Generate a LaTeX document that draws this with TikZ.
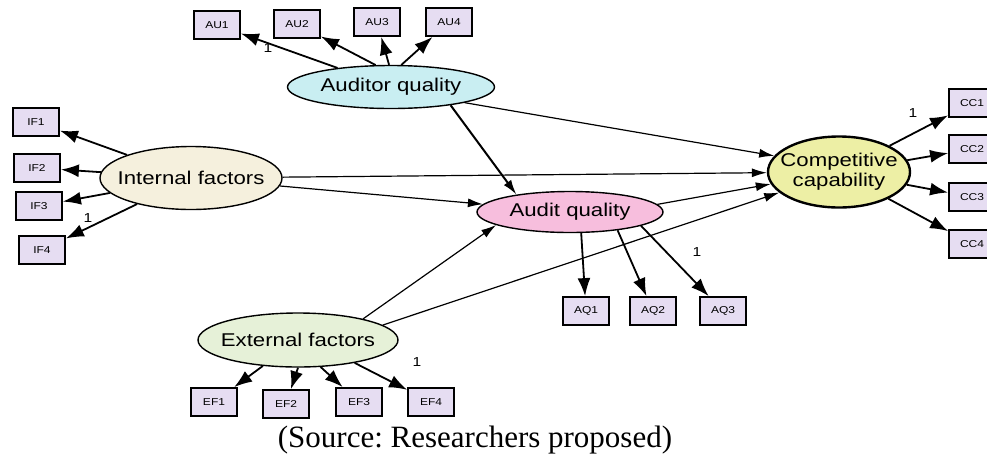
\documentclass[tikz,border=0pt]{standalone}
\usepackage{fontspec}
\setmainfont{Liberation Serif}
\setsansfont[FakeStretch=1.2]{Liberation Sans}
\usetikzlibrary{shapes.geometric,arrows.meta}
\frenchspacing

\definecolor{boxfill}{HTML}{E6DDF2}
\definecolor{auqfill}{HTML}{C9EEF2}
\definecolor{intfill}{HTML}{F5F0DD}
\definecolor{ccfill}{HTML}{EDEFA5}
\definecolor{aqfill}{HTML}{F7BEDD}
\definecolor{extfill}{HTML}{E6F1D8}

\begin{document}
\begin{tikzpicture}[x=1pt, y=-1pt,
      every node/.style={font=\sffamily},
      indicator/.style={draw, line width=1.8pt, fill=boxfill, minimum width=46pt, minimum height=28pt, inner sep=0pt, font=\sffamily\fontsize{10}{10}\selectfont},
      latent/.style={ellipse, draw, line width=1.4pt, inner sep=0pt},
      lattext/.style={align=center, font=\sffamily\fontsize{18.5}{20}\selectfont},
      meas/.style={-{Latex[length=18pt,width=13pt]}, line width=1.8pt},
      regpath/.style={-{Latex[length=15pt,width=9pt]}, line width=1.2pt},
      one/.style={font=\sffamily\fontsize{13}{13}\selectfont}
    ]
    \useasboundingbox (0,0) rectangle (987,459);

    % latent variables
    \node[latent, fill=auqfill, minimum width=207pt, minimum height=43pt, label={[lattext]center:Auditor quality}] (AUQ) at (391,87) {};
    \node[latent, fill=intfill, minimum width=182pt, minimum height=63pt, label={[lattext]center:Internal factors}] (INT) at (191,178) {};
    \node[latent, fill=ccfill, line width=2.4pt, minimum width=142pt, minimum height=71pt, label={[lattext]center:Competitive\\capability}] (CC) at (839,172) {};
    \node[latent, fill=aqfill, minimum width=186pt, minimum height=41pt, label={[lattext]center:Audit quality}] (AQ) at (570,212) {};
    \node[latent, fill=extfill, minimum width=200pt, minimum height=54pt, label={[lattext]center:External factors}] (EXT) at (298,340) {};

    % auditor quality items
    \node[indicator] (AU1) at (217,25) {AU1};
    \node[indicator] (AU2) at (297,24) {AU2};
    \node[indicator] (AU3) at (377,22) {AU3};
    \node[indicator] (AU4) at (449,22) {AU4};

    \draw[meas] (AUQ) -- (AU1);
    \draw[meas] (AUQ.125) -- (AU2);
    \draw[meas] (AUQ.95) -- (AU3);
    \draw[meas] (AUQ.65) -- (AU4);

    % internal factors items
    \node[indicator] (IF1) at (36,122) {IF1};
    \node[indicator] (IF2) at (37,168) {IF2};
    \node[indicator] (IF3) at (39,206) {IF3};
    \node[indicator] (IF4) at (42,250) {IF4};

    \draw[meas] (INT) -- (IF1);
    \draw[meas] (INT) -- (IF2);
    \draw[meas] (INT) -- (IF3);
    \draw[meas] (INT) -- (IF4);

    % competitive capability items
    \node[indicator] (CC1) at (972,103) {CC1};
    \node[indicator] (CC2) at (972,149) {CC2};
    \node[indicator] (CC3) at (972,197) {CC3};
    \node[indicator] (CC4) at (972,244) {CC4};

    \draw[meas] (CC) -- (CC1);
    \draw[meas] (CC) -- (CC2);
    \draw[meas] (CC) -- (CC3);
    \draw[meas] (CC) -- (CC4);

    % audit quality items
    \node[indicator] (AQ1) at (586,311) {AQ1};
    \node[indicator] (AQ2) at (653,311) {AQ2};
    \node[indicator] (AQ3) at (723,311) {AQ3};

    \draw[meas] (AQ.-62) -- (AQ1);
    \draw[meas] (AQ.-21) -- (AQ2);
    \draw[meas] (AQ.-11) -- (AQ3);

    % external factors items
    \node[indicator] (EF1) at (214,402) {EF1};
    \node[indicator] (EF2) at (286,404) {EF2};
    \node[indicator] (EF3) at (359,402) {EF3};
    \node[indicator] (EF4) at (431,402) {EF4};

    \draw[meas] (EXT) -- (EF1);
    \draw[meas] (EXT.-90) -- (EF2);
    \draw[meas] (EXT.-50) -- (EF3);
    \draw[meas] (EXT.-22) -- (EF4);

    % fixed loadings
    \node[one] (fixAU) at (268,48) {1};
    \node[one] (fixIF) at (88,218) {1};
    \node[one] (fixCC) at (913,113) {1};
    \node[one] (fixAQ) at (697,252) {1};
    \node[one] (fixEF) at (417,362) {1};

    % structural paths
    \draw[regpath] (AUQ.-12) -- (CC.166);
    \draw[regpath, line width=2pt] (AUQ.-17) -- (AQ.162);
    \draw[regpath] (INT) -- (CC);
    \draw[regpath] (INT) -- (AQ);
    \draw[regpath] (EXT.18) -- (AQ.190);
    \draw[regpath] (EXT.10) -- (CC.199);
    \draw[regpath] (AQ.5) -- (CC.190);

    % source line
    \node[font=\rmfamily\fontsize{31}{31}\selectfont] (src) at (475,440) {(Source: Researchers proposed)};

    \end{tikzpicture}
\end{document}
